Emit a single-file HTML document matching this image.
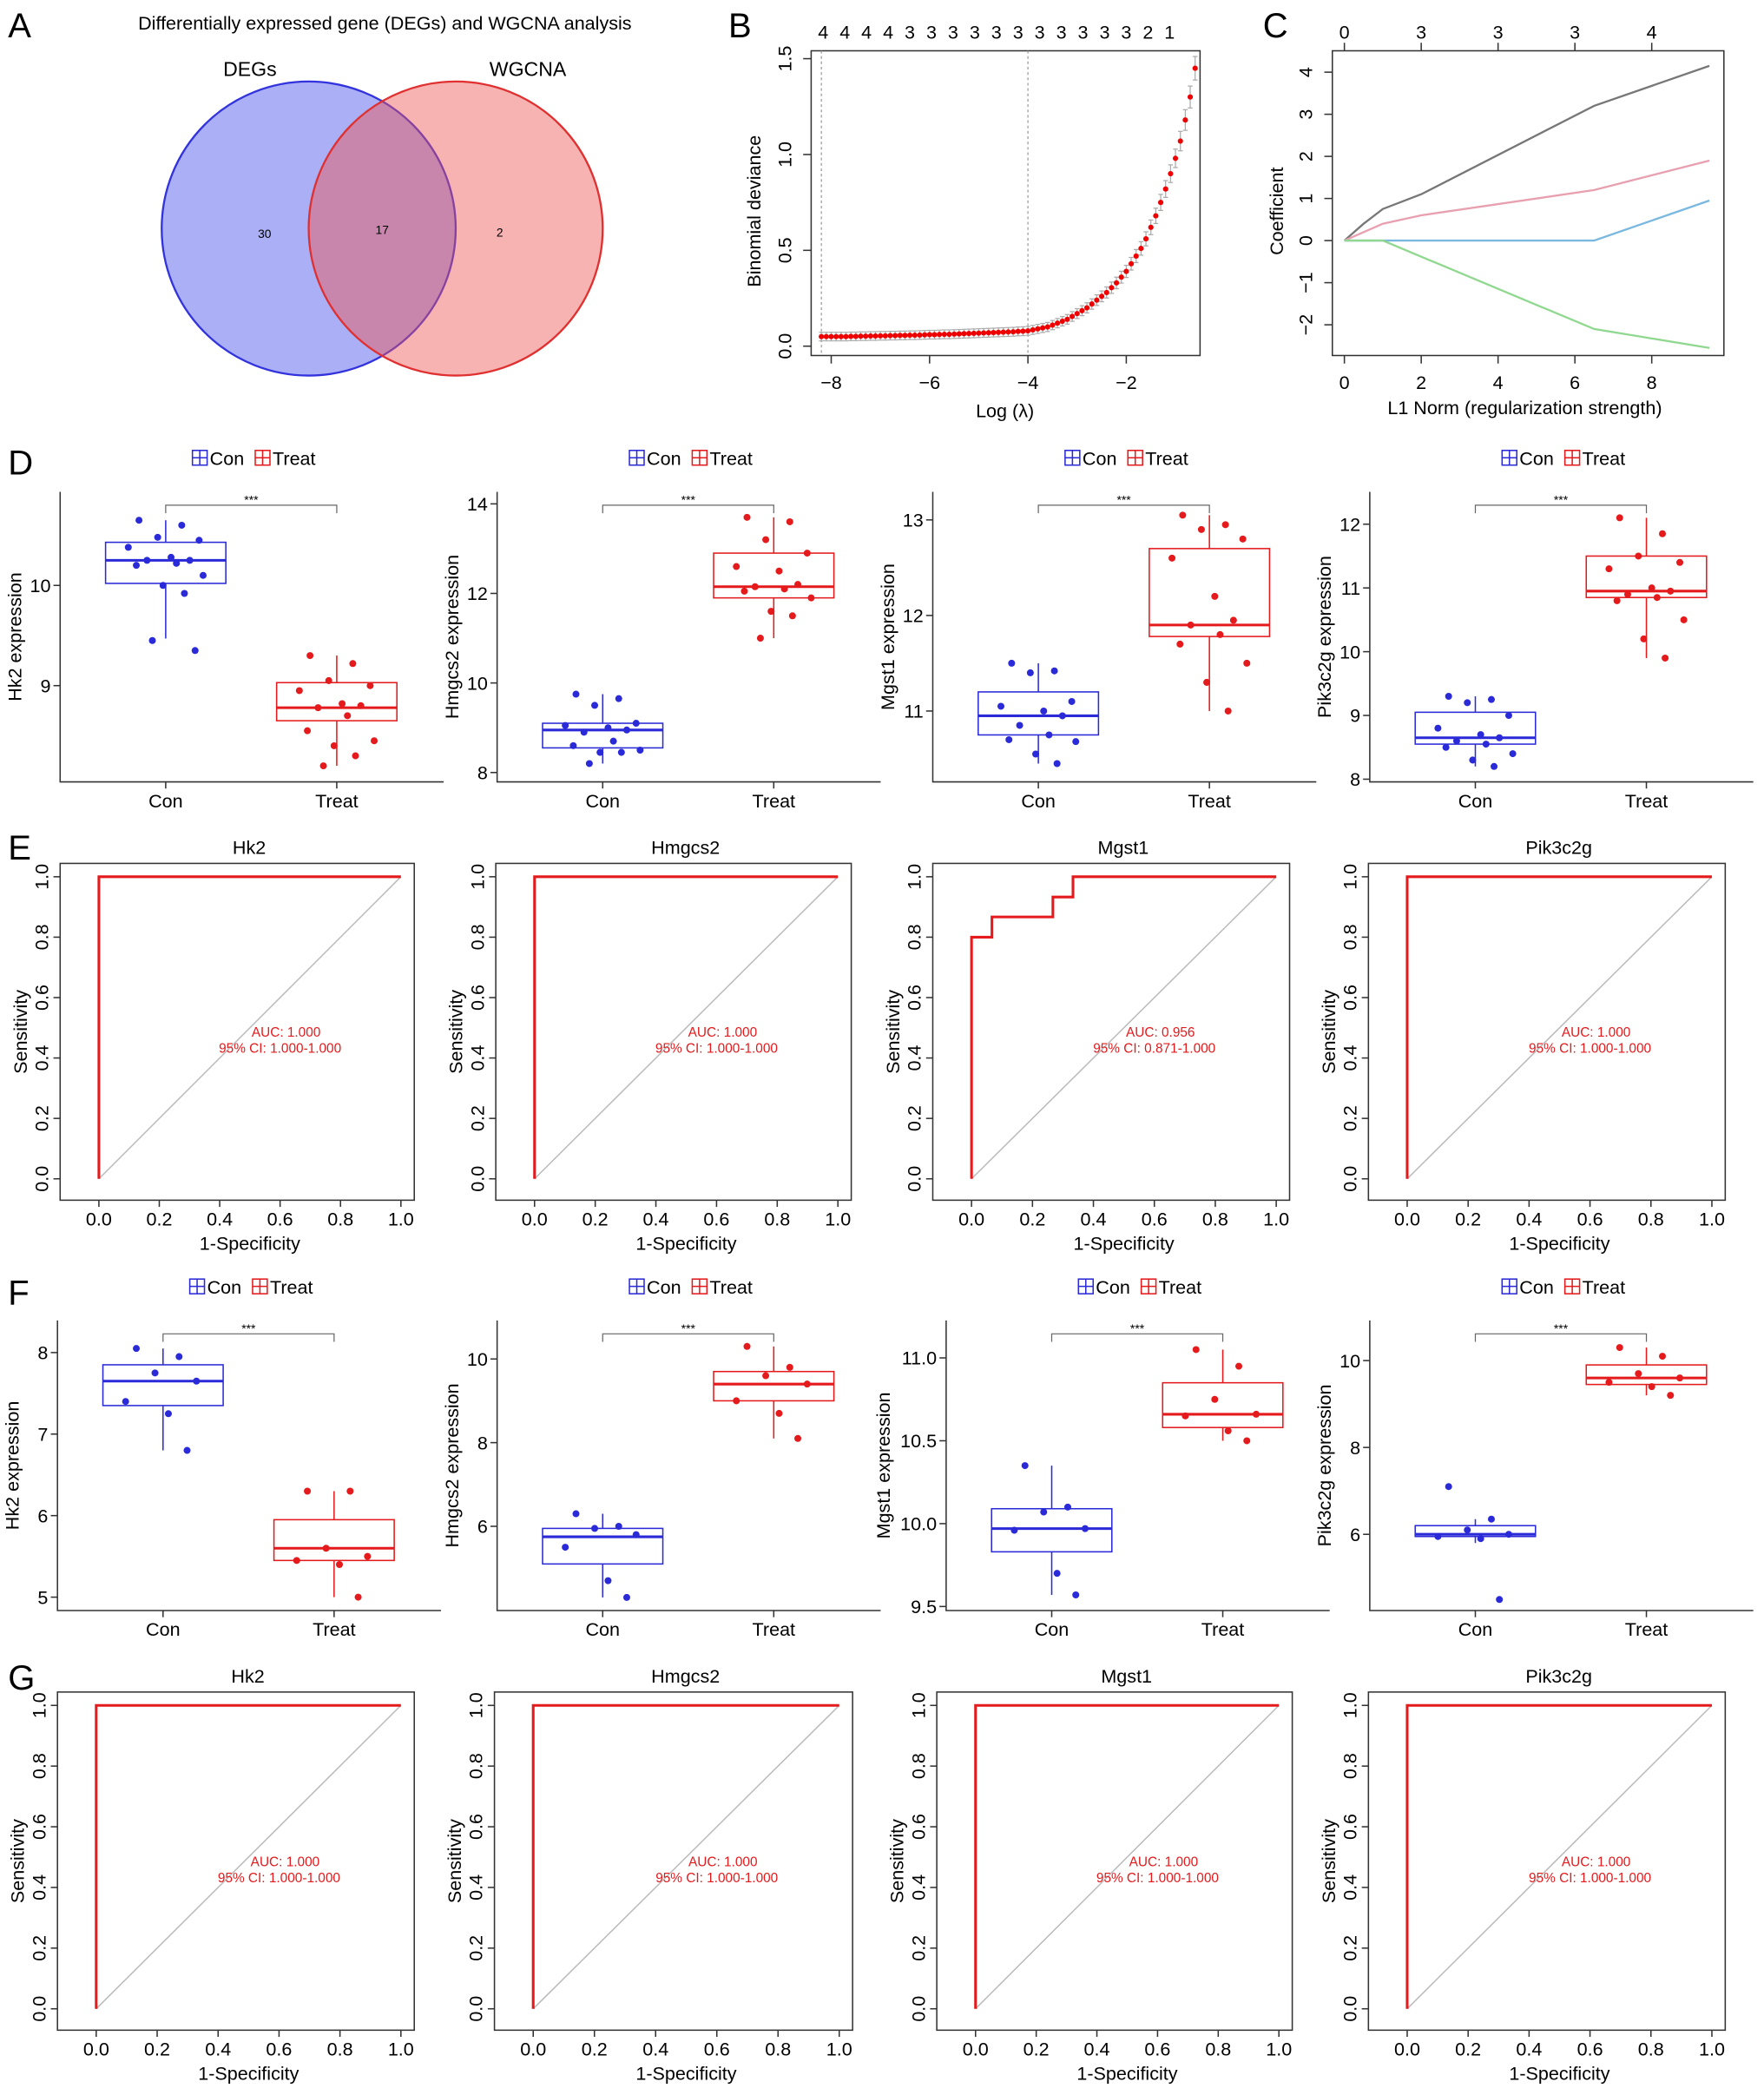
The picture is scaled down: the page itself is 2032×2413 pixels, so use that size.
<!DOCTYPE html>
<html><head><meta charset="utf-8"><style>
html,body{margin:0;padding:0;background:#fff;}
svg{display:block;font-family:"Liberation Sans",sans-serif;}
</style></head><body>
<svg id="fig" width="2032" height="2413" viewBox="0 0 1320 1567.5" preserveAspectRatio="none" xmlns="http://www.w3.org/2000/svg">
<rect width="1320" height="1567.5" fill="#fff"/>
<g font-size="26" font-weight="400">
<text x="6" y="28">A</text>
<text x="545" y="28">B</text>
<text x="945" y="28">C</text>
<text x="6" y="355">D</text>
<text x="6" y="643">E</text>
<text x="6" y="976">F</text>
<text x="6" y="1264">G</text>
</g>
<g>
<text x="288" y="22" font-size="14" text-anchor="middle">Differentially expressed gene (DEGs) and WGCNA analysis</text>
<circle cx="231" cy="171" r="110" fill="#5560ee" fill-opacity="0.5" stroke="#3333dd" stroke-width="1.5"/>
<circle cx="341" cy="171" r="110" fill="#ee5555" fill-opacity="0.45" stroke="#e03030" stroke-width="1.5"/>
<text x="187" y="57" font-size="15" text-anchor="middle">DEGs</text>
<text x="395" y="57" font-size="15" text-anchor="middle">WGCNA</text>
<text x="198" y="178" font-size="9" text-anchor="middle">30</text>
<text x="286" y="175" font-size="9" text-anchor="middle">17</text>
<text x="374" y="177" font-size="9" text-anchor="middle">2</text>
</g>
<g id="gB"></g>
<g id="gC"></g>
<g id="gD"></g>
<g id="gE"></g>
<g id="gF"></g>
<g id="gG"></g>
</svg>
<script>
// ---- Panel B data ----
const bLogLambda = [-8.2,-8.1,-8.0,-7.9,-7.8,-7.7,-7.6,-7.5,-7.4,-7.3,-7.2,-7.1,-7.0,-6.9,-6.8,-6.7,-6.6,-6.5,-6.4,-6.3,-6.2,-6.1,-6.0,-5.9,-5.8,-5.7,-5.6,-5.5,-5.4,-5.3,-5.2,-5.1,-5.0,-4.9,-4.8,-4.7,-4.6,-4.5,-4.4,-4.3,-4.2,-4.1,-4.0,-3.9,-3.8,-3.7,-3.6,-3.5,-3.4,-3.3,-3.2,-3.1,-3.0,-2.9,-2.8,-2.7,-2.6,-2.5,-2.4,-2.3,-2.2,-2.1,-2.0,-1.9,-1.8,-1.7,-1.6,-1.5,-1.4,-1.3,-1.2,-1.1,-1.0,-0.9,-0.8,-0.7,-0.6];
const bDeviance = [0.05,0.05,0.05,0.05,0.05,0.05,0.051,0.051,0.052,0.052,0.053,0.053,0.054,0.054,0.055,0.055,0.056,0.056,0.057,0.057,0.058,0.059,0.06,0.06,0.061,0.062,0.062,0.063,0.064,0.065,0.066,0.067,0.068,0.069,0.07,0.071,0.072,0.073,0.074,0.075,0.077,0.078,0.08,0.085,0.09,0.095,0.10,0.11,0.12,0.13,0.14,0.155,0.17,0.185,0.20,0.22,0.24,0.26,0.28,0.305,0.33,0.36,0.39,0.43,0.47,0.51,0.56,0.62,0.68,0.75,0.82,0.90,0.98,1.07,1.18,1.30,1.45];
const bXTicks = [-8,-6,-4,-2];
const bYTicks = [0.0,0.5,1.0,1.5];
const bTopCounts = ["4","4","4","4","3","3","3","3","3","3","3","3","3","3","3","2","1"];
const bVLines = [-8.2,-4.0];
// ---- Panel C data ----
const cXTicks = [0,2,4,6,8];
const cYTicks = [-2,-1,0,1,2,3,4];
const cTopTicks = [[0,"0"],[2,"3"],[4,"3"],[6,"3"],[8,"4"]];
const cGrayX=[0,0.5,1,2,6.5,9.5], cGrayY=[0,0.4,0.75,1.1,3.2,4.15];
const cPinkX=[0,1,2,6.5,9.5], cPinkY=[0,0.4,0.6,1.2,1.9];
const cBlueX=[0,6.5,9.5], cBlueY=[0,0,0.95];
const cGreenX=[0,1,6.5,9.5], cGreenY=[0,0,-2.1,-2.55];
// ---- Box plot data ----
const genes = ["Hk2","Hmgcs2","Mgst1","Pik3c2g"];
const dConStats = [[9.47,10.02,10.25,10.43,10.65],[8.2,8.55,8.95,9.1,9.75],[10.45,10.75,10.95,11.2,11.5],[8.2,8.55,8.65,9.05,9.3]];
const dTreatStats = [[8.2,8.65,8.78,9.03,9.3],[11.0,11.9,12.15,12.9,13.7],[11.0,11.78,11.9,12.7,13.05],[9.9,10.85,10.95,11.5,12.1]];
const dConPts = [[10.65,10.6,10.48,10.45,10.38,10.28,10.25,10.25,10.22,10.2,10.1,10.0,9.92,9.45,9.35],[9.75,9.65,9.5,9.1,9.05,9.0,8.95,8.9,8.7,8.6,8.5,8.45,8.45,8.2],[11.5,11.42,11.4,11.1,11.05,11.0,10.95,10.85,10.75,10.7,10.68,10.55,10.45],[9.3,9.25,9.2,9.0,8.8,8.7,8.65,8.6,8.55,8.5,8.4,8.3,8.2]];
const dTreatPts = [[9.3,9.22,9.05,9.0,8.95,8.82,8.8,8.78,8.7,8.55,8.45,8.4,8.3,8.2],[13.7,13.6,13.2,12.9,12.6,12.5,12.2,12.15,12.1,12.05,11.9,11.6,11.5,11.0],[13.05,12.95,12.9,12.8,12.6,12.2,11.95,11.9,11.8,11.7,11.5,11.3,11.0],[12.1,11.85,11.5,11.4,11.3,11.0,10.95,10.9,10.85,10.8,10.5,10.2,9.9]];
const dTicks = [[9,10],[8,10,12,14],[11,12,13],[8,9,10,11,12]];
const fConStats = [[6.8,7.35,7.65,7.85,8.05],[4.3,5.1,5.75,5.95,6.3],[9.57,9.83,9.97,10.09,10.35],[5.8,5.95,6.0,6.2,6.35]];
const fTreatStats = [[5.0,5.45,5.6,5.95,6.3],[8.1,9.0,9.4,9.7,10.3],[10.5,10.58,10.66,10.85,11.05],[9.2,9.45,9.6,9.9,10.3]];
const fConPts = [[8.05,7.95,7.75,7.65,7.4,7.25,6.8],[6.3,6.0,5.95,5.8,5.5,4.7,4.3],[10.35,10.1,10.07,9.97,9.96,9.7,9.57],[7.1,6.35,6.1,6.0,5.95,5.9,4.5]];
const fTreatPts = [[6.3,6.3,5.6,5.5,5.45,5.4,5.0],[10.3,9.8,9.6,9.4,9.0,8.7,8.1],[11.05,10.95,10.75,10.66,10.65,10.56,10.5],[10.3,10.1,9.7,9.6,9.5,9.4,9.2]];
const fTicks = [[5,6,7,8],[6,8,10],[9.5,10.0,10.5,11.0],[6,8,10]];
// ---- ROC data ----
const rocTicks = [0,0.2,0.4,0.6,0.8,1.0];
const eRocFpr = [[0,0,1],[0,0,1],[0,0,0.067,0.067,0.267,0.267,0.333,0.333,1],[0,0,1]];
const eRocTpr = [[0,1,1],[0,1,1],[0,0.8,0.8,0.867,0.867,0.933,0.933,1,1],[0,1,1]];
const eAuc = ["1.000","1.000","0.956","1.000"];
const eCi = ["1.000-1.000","1.000-1.000","0.871-1.000","1.000-1.000"];
const gRocFpr = [[0,0,1],[0,0,1],[0,0,1],[0,0,1]];
const gRocTpr = [[0,1,1],[0,1,1],[0,1,1],[0,1,1]];
const gAuc = ["1.000","1.000","1.000","1.000"];
const gCi = ["1.000-1.000","1.000-1.000","1.000-1.000","1.000-1.000"];

const NS="http://www.w3.org/2000/svg";
function mk(parent,tag,attrs,text){const e=document.createElementNS(NS,tag);for(const k in attrs)e.setAttribute(k,attrs[k]);if(text!==undefined)e.textContent=text;parent.appendChild(e);return e;}
function fmt(v,d){return v.toFixed(d);}

// ---------- Panel B ----------
(function(){
const g=document.getElementById('gB');
const X=v=>622+(v+8)*36.8, Y=v=>259-v*143.4;
let r=mk(g,'rect',{x:607,y:38,width:291,height:228,fill:'none',stroke:'#333','stroke-width':1});

bVLines.forEach(v=>{let l=mk(g,'line',{x1:X(v),x2:X(v),y1:38,y2:266,stroke:'#999','stroke-width':0.8,'stroke-dasharray':'2,2'});
});
bXTicks.forEach(v=>{mk(g,'line',{x1:X(v),x2:X(v),y1:266,y2:272,stroke:'#333'});
let t=mk(g,'text',{x:X(v),y:291,'font-size':14,'text-anchor':'middle'},v<0?'\u2212'+Math.abs(v):v);
});
bYTicks.forEach(v=>{mk(g,'line',{x1:601,x2:607,y1:Y(v),y2:Y(v),stroke:'#333'});
let t=mk(g,'text',{x:0,y:0,'font-size':14,'text-anchor':'middle',transform:`translate(592,${Y(v)}) rotate(-90)`},fmt(v,1));
});
bTopCounts.forEach((c,i)=>{let t=mk(g,'text',{x:616+i*16.2,y:29,'font-size':14,'text-anchor':'middle'},c);
});
bLogLambda.forEach((lv,i)=>{const d=bDeviance[i],x=X(lv),e=3+d*4;
mk(g,'line',{x1:x,x2:x,y1:Y(d)-e,y2:Y(d)+e,stroke:'#aaa','stroke-width':0.8});
mk(g,'line',{x1:x-1.8,x2:x+1.8,y1:Y(d)-e,y2:Y(d)-e,stroke:'#aaa','stroke-width':0.8});
mk(g,'line',{x1:x-1.8,x2:x+1.8,y1:Y(d)+e,y2:Y(d)+e,stroke:'#aaa','stroke-width':0.8});
let p=mk(g,'circle',{cx:x,cy:Y(d),r:2,fill:'#e00'});
});
let xl=mk(g,'text',{x:752,y:312,'font-size':14,'text-anchor':'middle'},'Log (\u03bb)');

let yl=mk(g,'text',{x:0,y:0,'font-size':14,'text-anchor':'middle',transform:'translate(569,158) rotate(-90)'},'Binomial deviance');

})();

// ---------- Panel C ----------
(function(){
const g=document.getElementById('gC');
const X=v=>1006+v*28.75, Y=v=>180-v*31.5;
let r=mk(g,'rect',{x:997,y:38,width:293,height:228,fill:'none',stroke:'#333','stroke-width':1});

cXTicks.forEach(v=>{mk(g,'line',{x1:X(v),x2:X(v),y1:266,y2:272,stroke:'#333'});
let t=mk(g,'text',{x:X(v),y:291,'font-size':14,'text-anchor':'middle'},v);
});
cYTicks.forEach(v=>{mk(g,'line',{x1:991,x2:997,y1:Y(v),y2:Y(v),stroke:'#333'});
let t=mk(g,'text',{x:0,y:0,'font-size':14,'text-anchor':'middle',transform:`translate(982,${Y(v)}) rotate(-90)`},v<0?'\u2212'+Math.abs(v):v);
});
cTopTicks.forEach(([v,l])=>{mk(g,'line',{x1:X(v),x2:X(v),y1:32,y2:38,stroke:'#333'});
let t=mk(g,'text',{x:X(v),y:29,'font-size':14,'text-anchor':'middle'},l);
});
[[cGrayX,cGrayY,'#777','coef-line-gray'],[cPinkX,cPinkY,'#e8a0b0','coef-line-pink'],[cBlueX,cBlueY,'#7ab8e0','coef-line-blue'],[cGreenX,cGreenY,'#90d890','coef-line-green']].forEach(([xs,ys,c,n])=>{
let p=mk(g,'polyline',{points:xs.map((x,i)=>X(x)+','+Y(ys[i])).join(' '),fill:'none',stroke:c,'stroke-width':1.5});
});
let xl=mk(g,'text',{x:1141,y:310,'font-size':14,'text-anchor':'middle'},'L1 Norm (regularization strength)');

let yl=mk(g,'text',{x:0,y:0,'font-size':14,'text-anchor':'middle',transform:'translate(960,158) rotate(-90)'},'Coefficient');

})();

// ---------- Box plots ----------
const jit=[-20,12,-6,25,-28,4,18,-14,8,-22,28,-2,14,-10,22];
function legend(g,cx,y){
[['#2a2ad8','Con',-33],['#e41a1c','Treat',14]].forEach(([c,l,dx])=>{
const x=cx+dx;
let b=mk(g,'rect',{x:x-6,y:y-11,width:11,height:11,fill:'none',stroke:c,'stroke-width':1});

mk(g,'line',{x1:x-6,x2:x+5,y1:y-5.5,y2:y-5.5,stroke:c});mk(g,'line',{x1:x-0.5,x2:x-0.5,y1:y-11,y2:y,stroke:c});
let t=mk(g,'text',{x:x+7,y:y,'font-size':14},l);
});
}
function boxPanels(gid,conStats,treatStats,conPts,treatPts,ticks,cfg){
const g=document.getElementById(gid);
cfg.forEach((c,i)=>{
const Y=v=>c.p0-(v-c.v0)*c.k;
const ax=c.ax, xCon=ax+79, xTr=ax+207;
legend(g,ax+138,c.legY);
let a=mk(g,'polyline',{points:`${ax},${c.top} ${ax},${c.bot} ${ax+287},${c.bot}`,fill:'none',stroke:'#333','stroke-width':1});

ticks[i].forEach(v=>{mk(g,'line',{x1:ax-5,x2:ax,y1:Y(v),y2:Y(v),stroke:'#333'});
let t=mk(g,'text',{x:ax-7,y:Y(v)+5,'font-size':14,'text-anchor':'end'},Number.isInteger(v)&&c.dec===0?v:fmt(v,c.dec));
});
[[xCon,'Con'],[xTr,'Treat']].forEach(([x,l])=>{mk(g,'line',{x1:x,x2:x,y1:c.bot,y2:c.bot+5,stroke:'#333'});
let t=mk(g,'text',{x:x,y:c.bot+19,'font-size':14,'text-anchor':'middle'},l);
});
let yl=mk(g,'text',{x:0,y:0,'font-size':14,'text-anchor':'middle',transform:`translate(${ax-(c.lab||29)},${(c.top+c.bot)/2}) rotate(-90)`},genes[i]+' expression');

const by=c.top+10;
let br=mk(g,'polyline',{points:`${xCon},${by+6} ${xCon},${by} ${xTr},${by} ${xTr},${by+6}`,fill:'none',stroke:'#666','stroke-width':0.8});

let st=mk(g,'text',{x:(xCon+xTr)/2,y:by-1,'font-size':9,'text-anchor':'middle'},'***');

[[xCon,conStats[i],conPts[i],'#2a2ad8','con'],[xTr,treatStats[i],treatPts[i],'#e41a1c','treat']].forEach(([x,s,pts,col,n])=>{
mk(g,'line',{x1:x,x2:x,y1:Y(s[0]),y2:Y(s[1]),stroke:col});
mk(g,'line',{x1:x,x2:x,y1:Y(s[3]),y2:Y(s[4]),stroke:col});
let b=mk(g,'rect',{x:x-45,y:Y(s[3]),width:90,height:Y(s[1])-Y(s[3]),fill:'none',stroke:col,'stroke-width':1});

let m=mk(g,'line',{x1:x-45,x2:x+45,y1:Y(s[2]),y2:Y(s[2]),stroke:col,'stroke-width':2});

pts.forEach((v,j)=>{let p=mk(g,'circle',{cx:x+jit[j%jit.length],cy:Y(v),r:2.6,fill:col});
});
});
});
}
boxPanels('gD',dConStats,dTreatStats,dConPts,dTreatPts,dTicks,[
{ax:45,top:368,bot:585,v0:10,p0:438,k:75,dec:0,legY:348},
{ax:372,top:368,bot:585,v0:8,p0:578,k:33.5,dec:0,legY:348},
{ax:698,top:368,bot:585,v0:11,p0:532,k:71.5,dec:0,legY:348},
{ax:1025,top:368,bot:585,v0:8,p0:583,k:47.7,dec:0,legY:348}]);
boxPanels('gF',fConStats,fTreatStats,fConPts,fTreatPts,fTicks,[
{ax:43,top:988,bot:1205,v0:5,p0:1195,k:61,dec:0,legY:968},
{ax:372,top:988,bot:1205,v0:6,p0:1142,k:31.3,dec:0,legY:968},
{ax:708,top:988,bot:1205,v0:9.5,p0:1202,k:124,dec:1,legY:968,lab:42},
{ax:1025,top:988,bot:1205,v0:6,p0:1148,k:32.5,dec:0,legY:968}]);

// ---------- ROC ----------
function rocPanels(gid,fprs,tprs,aucs,cis,cfg){
const g=document.getElementById(gid);
cfg.forEach((c,i)=>{
const X=v=>c.x0+v*(c.x1-c.x0), Y=v=>c.y0-v*(c.y0-c.y1);
const L=X(0)-29,R=X(1)+10,T=Y(1)-10,B=Y(0)+16;
let f=mk(g,'rect',{x:L,y:T,width:R-L,height:B-T,fill:'none',stroke:'#333','stroke-width':1});

let tt=mk(g,'text',{x:(L+R)/2+9,y:T-7,'font-size':14,'text-anchor':'middle'},genes[i]);

rocTicks.forEach(v=>{mk(g,'line',{x1:X(v),x2:X(v),y1:B,y2:B+5,stroke:'#333'});
let t=mk(g,'text',{x:X(v),y:B+19,'font-size':14,'text-anchor':'middle'},fmt(v,1));

mk(g,'line',{x1:L-5,x2:L,y1:Y(v),y2:Y(v),stroke:'#333'});
let u=mk(g,'text',{x:0,y:0,'font-size':14,'text-anchor':'middle',transform:`translate(${L-9},${Y(v)}) rotate(-90)`},fmt(v,1));
});
let xl=mk(g,'text',{x:(X(0)+X(1))/2,y:B+37,'font-size':14,'text-anchor':'middle'},'1-Specificity');

let yl=mk(g,'text',{x:0,y:0,'font-size':14,'text-anchor':'middle',transform:`translate(${L-25},${(T+B)/2}) rotate(-90)`},'Sensitivity');

let d=mk(g,'line',{x1:X(0),y1:Y(0),x2:X(1),y2:Y(1),stroke:'#bbb','stroke-width':1});

let p=mk(g,'polyline',{points:fprs[i].map((v,j)=>X(v)+','+Y(tprs[i][j])).join(' '),fill:'none',stroke:'#e41a1c','stroke-width':2});

let a=mk(g,'text',{x:X(0.62),y:Y(0.47),'font-size':10,'text-anchor':'middle',fill:'#e41a1c'},'AUC: '+aucs[i]);

let ci=mk(g,'text',{x:X(0.6),y:Y(0.47)+12,'font-size':10,'text-anchor':'middle',fill:'#e41a1c'},'95% CI: '+cis[i]);

});
}
rocPanels('gE',eRocFpr,eRocTpr,eAuc,eCi,[
{x0:74,x1:300,y0:882,y1:656},{x0:400,x1:627,y0:882,y1:656},{x0:727,x1:955,y0:882,y1:656},{x0:1053,x1:1281,y0:882,y1:656}]);
rocPanels('gG',gRocFpr,gRocTpr,gAuc,gCi,[
{x0:72,x1:300,y0:1503,y1:1276},{x0:399,x1:628,y0:1503,y1:1276},{x0:730,x1:957,y0:1503,y1:1276},{x0:1053,x1:1281,y0:1503,y1:1276}]);
</script>
</body></html>
